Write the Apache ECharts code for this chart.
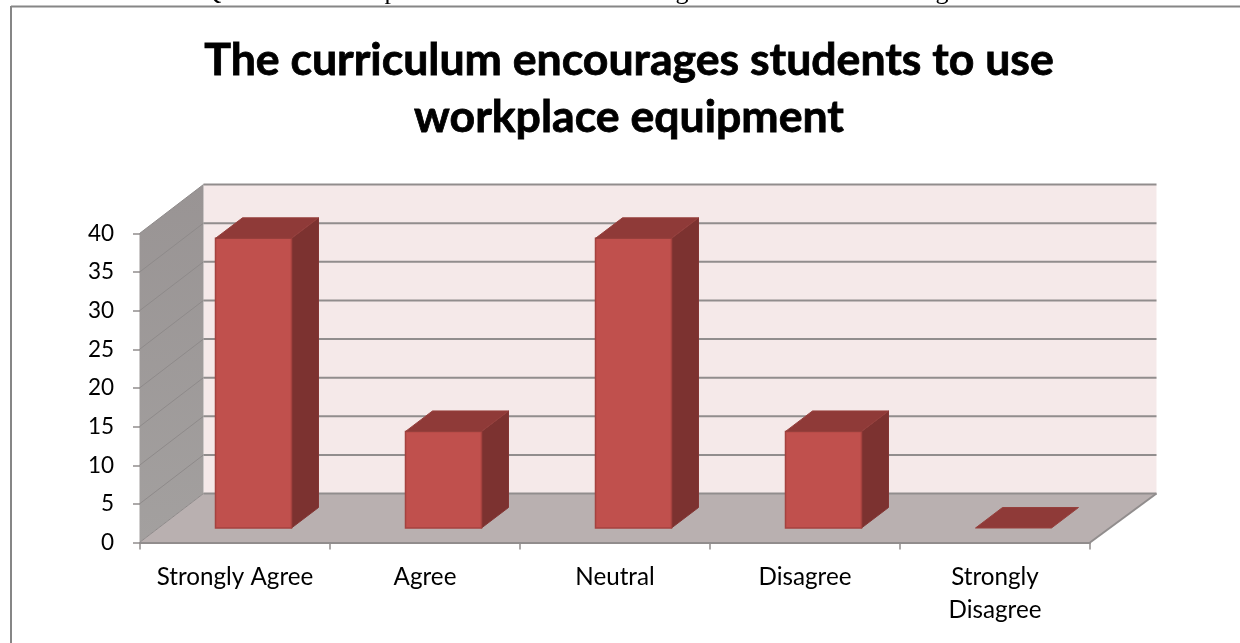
<!DOCTYPE html>
<html>
<head>
<meta charset="utf-8">
<style>html,body{margin:0;padding:0;background:#fff}#c{width:1240px;height:643px}</style>
<script src="https://cdn.jsdelivr.net/npm/echarts@6/dist/echarts.min.js"></script>
</head>
<body>
<div id="c"></div>
<script>
const titleText = 'The curriculum encourages students to use\nworkplace equipment';
const categories = ['Strongly Agree', 'Agree', 'Neutral', 'Disagree', 'Strongly\nDisagree'];
const values = [37.5, 12.5, 37.5, 12.5, 0];
const yTicks = [0, 5, 10, 15, 20, 25, 30, 35, 40];
const clippedTextAbove = ['Q', 'p', 'g', 'g'];

const GRAY = '#918d8d';
const WALL_DX = 64, WALL_DY = 49, WALL_EXTRA = 2.5;
const BAR_OFF_X = 19, BAR_OFF_Y = 14.5;
const BAR_DX = 27, BAR_DY = 20.5;

function poly(points, fill, stroke, lw) {
  return { type: 'polygon', shape: { points }, style: { fill, stroke: stroke || null, lineWidth: lw || 0 }, silent: true };
}
function seg(x1, y1, x2, y2, w, c) {
  return { type: 'line', shape: { x1, y1, x2, y2 }, style: { stroke: c || GRAY, lineWidth: w || 1.5 }, silent: true };
}

function renderWalls(params, api) {
  const cs = params.coordSys;
  const L = cs.x - 0.5, R = cs.x + cs.width, B = cs.y + cs.height;
  const T = api.coord([0, 40])[1];
  const BR = R + WALL_DX + WALL_EXTRA;
  const ch = [];
  ch.push(poly([[L + WALL_DX, T - WALL_DY], [BR, T - WALL_DY], [BR, B - WALL_DY], [L + WALL_DX, B - WALL_DY]], '#f5e9e9'));
  ch.push({
    type: 'polygon',
    shape: { points: [[L, T], [L + WALL_DX, T - WALL_DY], [L + WALL_DX, B - WALL_DY], [L, B]] },
    style: { fill: { type: 'linear', x: 0, y: 0, x2: 0, y2: 1, colorStops: [{ offset: 0, color: '#999494' }, { offset: 1, color: '#a3a09f' }] } },
    silent: true
  });
  ch.push(poly([[L, B], [L + WALL_DX, B - WALL_DY], [BR, B - WALL_DY], [R, B]], '#b9b0b0'));
  yTicks.forEach(t => {
    const y = api.coord([0, t])[1];
    ch.push(seg(L, y, L + WALL_DX, y - WALL_DY, 1, '#8e8a8a'));
    ch.push(seg(L + WALL_DX, y - WALL_DY, BR, y - WALL_DY, 2));
  });
  ch.push(seg(R, B, BR, B - WALL_DY, 2));
  return { type: 'group', children: ch };
}

function renderBar(params, api) {
  const base = api.coord([api.value(0), 0]);
  const topPt = api.coord([api.value(0), api.value(1)]);
  const w = api.size([1, 0])[0] * 0.4;
  const x0 = base[0] + BAR_OFF_X - w / 2 - 0.5, x1 = x0 + w;
  const yb = base[1] - BAR_OFF_Y, yt = topPt[1] - BAR_OFF_Y;
  const ch = [];
  const edge = '#a5423f';
  if (api.value(1) > 0) {
    ch.push(poly([[x1, yb], [x1 + BAR_DX, yb - BAR_DY], [x1 + BAR_DX, yt - BAR_DY], [x1, yt]], '#7c3230', '#843634', 1));
    ch.push(poly([[x0, yb], [x1, yb], [x1, yt], [x0, yt]], '#c0504d', edge, 1.5));
  }
  ch.push(poly([[x0, yt], [x1, yt], [x1 + BAR_DX, yt - BAR_DY], [x0 + BAR_DX, yt - BAR_DY]], '#8f3a38', '#96403d', 1));
  return { type: 'group', children: ch };
}

const fragX = [212, 391, 682, 942];
const chart = echarts.init(document.getElementById('c'), null, { renderer: 'canvas' });
chart.setOption({
  animation: false,
  backgroundColor: '#fff',
  title: {
    text: titleText, left: 624, top: 27, textAlign: 'center',
    textStyle: { fontFamily: 'Lato', fontWeight: 'bold', fontSize: 44.6, lineHeight: 57, color: '#000', textBorderColor: '#000', textBorderWidth: 0.8 }
  },
  graphic: clippedTextAbove.map((s, i) => ({
    type: 'text', x: fragX[i], y: 5, silent: true,
    style: { text: s, fontFamily: 'Liberation Serif', fontSize: 26, fill: '#000', align: 'center', verticalAlign: 'bottom' }
  })).concat([
    { type: 'line', shape: { x1: 11, y1: 6.5, x2: 1240, y2: 6.5 }, style: { stroke: '#868686', lineWidth: 2 }, silent: true },
    { type: 'line', shape: { x1: 11, y1: 6, x2: 11, y2: 643 }, style: { stroke: '#868686', lineWidth: 2 }, silent: true }
  ]),
  grid: { left: 140, right: 150, top: 233.5, bottom: 100.5 },
  xAxis: {
    type: 'category', data: categories, boundaryGap: true, z: 5,
    axisLine: { show: true, lineStyle: { color: GRAY, width: 2 } },
    axisTick: { show: true, alignWithLabel: false, length: 7, lineStyle: { color: GRAY, width: 1.5 } },
    axisLabel: { fontFamily: 'Lato', fontSize: 24.2, color: '#000', margin: 18, lineHeight: 33, interval: 0 }
  },
  yAxis: {
    type: 'value', min: 0, max: 40, interval: 5, z: 5,
    axisLine: { show: false },
    axisTick: { show: true, length: 7, lineStyle: { color: GRAY, width: 1.5 } },
    axisLabel: { fontFamily: 'Lato', fontSize: 22.5, color: '#000', margin: 26, padding: [3, 0, 0, 0] },
    splitLine: { show: false }
  },
  series: [
    { type: 'custom', coordinateSystem: 'cartesian2d', z: 1, silent: true, renderItem: renderWalls, data: [[0, 0]], encode: { x: 0, y: 1 } },
    { type: 'custom', coordinateSystem: 'cartesian2d', z: 3, silent: true, renderItem: renderBar, data: values.map((v, i) => [i, v]), encode: { x: 0, y: 1 } }
  ]
});
</script>
</body>
</html>
